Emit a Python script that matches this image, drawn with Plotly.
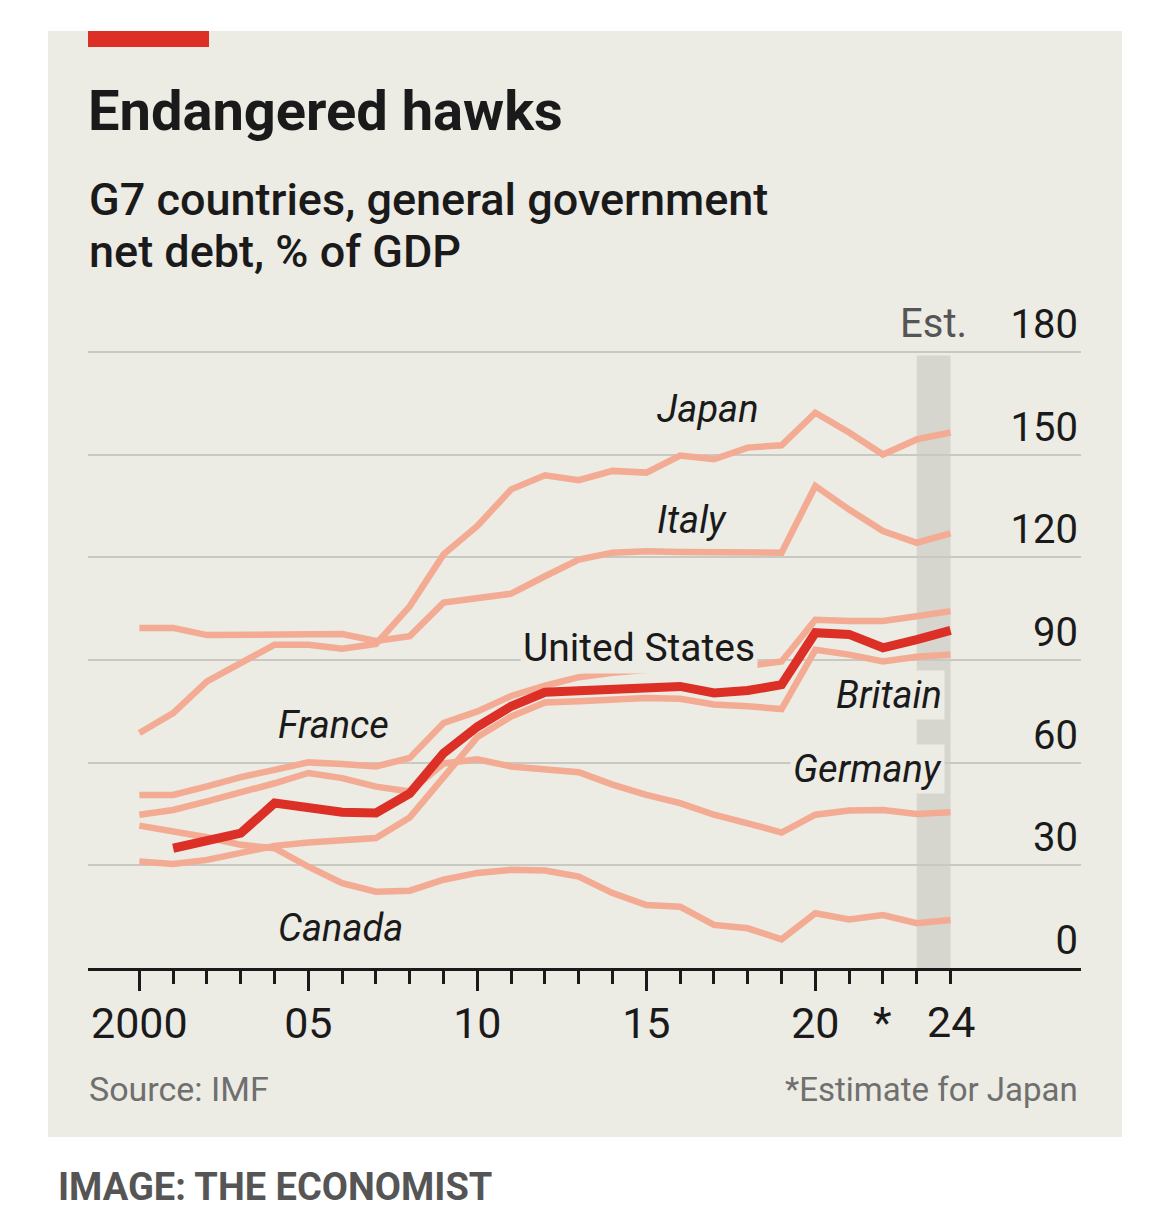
import plotly.graph_objects as go

# data (general government net debt, % of GDP)
years = list(range(2000, 2025))
us_years = list(range(2001, 2025))

japan = [68.7, 74.5, 83.8, 89.2, 94.5, 94.5, 93.3, 94.7, 105.7, 120.9, 129.2, 139.9, 144.0,
         142.6, 145.3, 144.8, 149.8, 148.7, 152.1, 152.8, 162.3, 156.5, 150.1, 154.5, 156.5]
italy = [99.4, 99.4, 97.3, 97.4, 97.4, 97.4, 97.6, 95.6, 97.0, 106.8, 108.2, 109.4, 114.5,
         119.4, 121.4, 121.8, 121.6, 121.4, 121.6, 121.4, 140.9, 134.0, 127.7, 124.3, 127.0]
france = [50.6, 50.6, 53.1, 55.8, 57.9, 60.1, 59.6, 58.9, 61.4, 71.6, 75.0, 79.5, 82.5,
          85.0, 86.3, 87.0, 88.0, 88.0, 88.3, 89.6, 101.8, 101.4, 101.4, 102.8, 104.3]
britain = [31.1, 30.4, 31.6, 33.6, 35.7, 36.7, 37.3, 38.0, 44.0, 56.0, 67.5, 73.5, 77.6,
           78.0, 78.4, 78.9, 78.7, 77.0, 76.5, 75.7, 93.0, 91.6, 89.6, 91.0, 91.6]
germany = [44.8, 46.2, 48.7, 51.3, 54.0, 57.0, 55.5, 53.0, 51.6, 59.8, 61.0, 58.9, 57.9,
           57.2, 53.6, 50.6, 48.2, 44.8, 42.3, 39.6, 44.8, 46.0, 46.2, 45.0, 45.5]
canada = [41.6, 39.9, 38.2, 36.0, 35.0, 29.6, 24.8, 22.3, 22.6, 25.8, 27.8, 28.7, 28.5,
          26.7, 21.9, 18.4, 17.9, 12.6, 11.6, 8.4, 16.0, 14.2, 15.5, 13.1, 14.0]
united_states = [35.0, 37.0, 39.4, 48.2, 46.7, 45.5, 45.3, 51.0, 62.8, 70.5, 76.5, 80.6,
                 81.0, 81.4, 81.8, 82.3, 80.4, 81.1, 82.8, 98.0, 97.5, 93.6, 96.0, 98.7]

major_years = [2000, 2005, 2010, 2015, 2020]
major_labels = ["2000", "05", "10", "15", "20"]
y_ticks = [0, 30, 60, 90, 120, 150, 180]

BG = "#ecebe4"
SALMON = "#f4ab93"
RED = "#dc2f26"
INK = "#1a1a1a"
GREY = "#6f6f6f"
FONT = "Roboto"

# page geometry (the html body has an 8px margin)
W, H = 1162, 1223
OFF = 8
ML, MT, PW, PH = 80, 286, 993, 674
Y_TOP = 197


def xp(px):
    return (px - OFF - ML) / PW


def yp(py):
    return 1 - (py - OFF - MT) / PH


fig = go.Figure()

others = [("Japan", japan), ("Italy", italy), ("France", france), ("Britain", britain),
          ("Germany", germany), ("Canada", canada)]
for name, vals in others:
    fig.add_trace(go.Scatter(x=years, y=vals, name=name, mode="lines",
                             line=dict(color=SALMON, width=6.5), hoverinfo="skip"))

fig.add_trace(go.Scatter(x=us_years, y=united_states, name="United States", mode="lines",
                         line=dict(color=RED, width=9), hoverinfo="skip"))

# card background, red tag and estimate band
fig.add_shape(type="rect", xref="paper", yref="paper", x0=xp(48), x1=xp(1122),
              y0=yp(1137), y1=yp(31), fillcolor=BG, line_width=0, layer="below")
fig.add_shape(type="rect", xref="paper", yref="paper", x0=xp(88), x1=xp(209),
              y0=yp(47), y1=yp(31), fillcolor=RED, line_width=0, layer="below")
fig.add_shape(type="rect", xref="x", yref="y", x0=2023, x1=2024, y0=0, y1=179,
              fillcolor="#d6d6cf", line_width=0, layer="below")


def label(text, x, y, xanchor="center", italic=True, size=38):
    fig.add_annotation(x=x, y=y, xref="x", yref="y", text=f"<i>{text}</i>" if italic else text,
                       showarrow=False, xanchor=xanchor, yanchor="middle",
                       font=dict(family=FONT, size=size, color=INK),
                       bgcolor=BG, borderpad=2)


label("Japan", 2016.83, 163.5)
label("Italy", 2016.36, 130.9)
label("United States", 2014.79, 93.4, italic=False, size=39)
label("Britain", 2023.84, 79.7, xanchor="right")
label("Germany", 2023.84, 58.1, xanchor="right")
label("France", 2004.01, 71.0, xanchor="left")
label("Canada", 2004.01, 11.8, xanchor="left")

fig.add_annotation(x=2024.55, y=yp(323), xref="x", yref="paper", text="Est.", showarrow=False,
                   xanchor="right", yanchor="middle", font=dict(family=FONT, size=40, color="#555555"))

# extra x labels without long ticks
for xv, txt in [(2022, "*"), (2024, "24")]:
    fig.add_annotation(x=xv, y=yp(1022), xref="x", yref="paper", text=txt, showarrow=False,
                       xanchor="center", yanchor="middle", font=dict(family=FONT, size=43, color=INK))

# titles and footers
fig.add_annotation(x=xp(86), y=yp(111), xref="paper", yref="paper", text="<b>Endangered hawks</b>",
                   showarrow=False, xanchor="left", yanchor="middle",
                   font=dict(family=FONT, size=56, color=INK))
fig.add_annotation(x=xp(87), y=yp(200), xref="paper", yref="paper",
                   text="G7 countries, general government", showarrow=False,
                   xanchor="left", yanchor="middle",
                   font=dict(family=FONT, size=45, color=INK, weight=500))
fig.add_annotation(x=xp(87), y=yp(252), xref="paper", yref="paper", text="net debt, % of GDP",
                   showarrow=False, xanchor="left", yanchor="middle",
                   font=dict(family=FONT, size=45, color=INK, weight=500))
fig.add_annotation(x=xp(87), y=yp(1089), xref="paper", yref="paper", text="Source: IMF",
                   showarrow=False, xanchor="left", yanchor="middle",
                   font=dict(family=FONT, size=34, color=GREY))
fig.add_annotation(x=xp(1080), y=yp(1089), xref="paper", yref="paper", text="*Estimate for Japan",
                   showarrow=False, xanchor="right", yanchor="middle",
                   font=dict(family=FONT, size=33, color=GREY))
fig.add_annotation(x=xp(56), y=yp(1187), xref="paper", yref="paper",
                   text="<b>IMAGE: THE ECONOMIST</b>", showarrow=False, xanchor="left",
                   yanchor="middle", font=dict(family=FONT, size=38, color="#555555"))

fig.update_xaxes(range=[1998.48, 2027.86], showgrid=False, zeroline=False,
                 showline=True, linecolor=INK, linewidth=3,
                 tickmode="array", tickvals=major_years, ticktext=major_labels,
                 ticks="outside", ticklen=20, tickwidth=2.5, tickcolor=INK,
                 ticklabelstandoff=-5,
                 tickfont=dict(family=FONT, size=43, color=INK),
                 minor=dict(tickmode="array", tickvals=years, ticks="outside",
                            ticklen=13, tickwidth=2.5, tickcolor=INK))
fig.update_yaxes(range=[0, Y_TOP], side="right", tickmode="array", tickvals=y_ticks,
                 showgrid=True, gridcolor="#c9c9c3", gridwidth=2, zeroline=False,
                 showline=False, ticks="", ticklabelposition="inside top",
                 tickfont=dict(family=FONT, size=40, color=INK))

fig.update_layout(width=W, height=H, paper_bgcolor="white",
                  plot_bgcolor="rgba(0,0,0,0)", showlegend=False,
                  margin=dict(l=ML, r=W - ML - PW, t=MT, b=H - MT - PH))

fig.write_html("out.html")
